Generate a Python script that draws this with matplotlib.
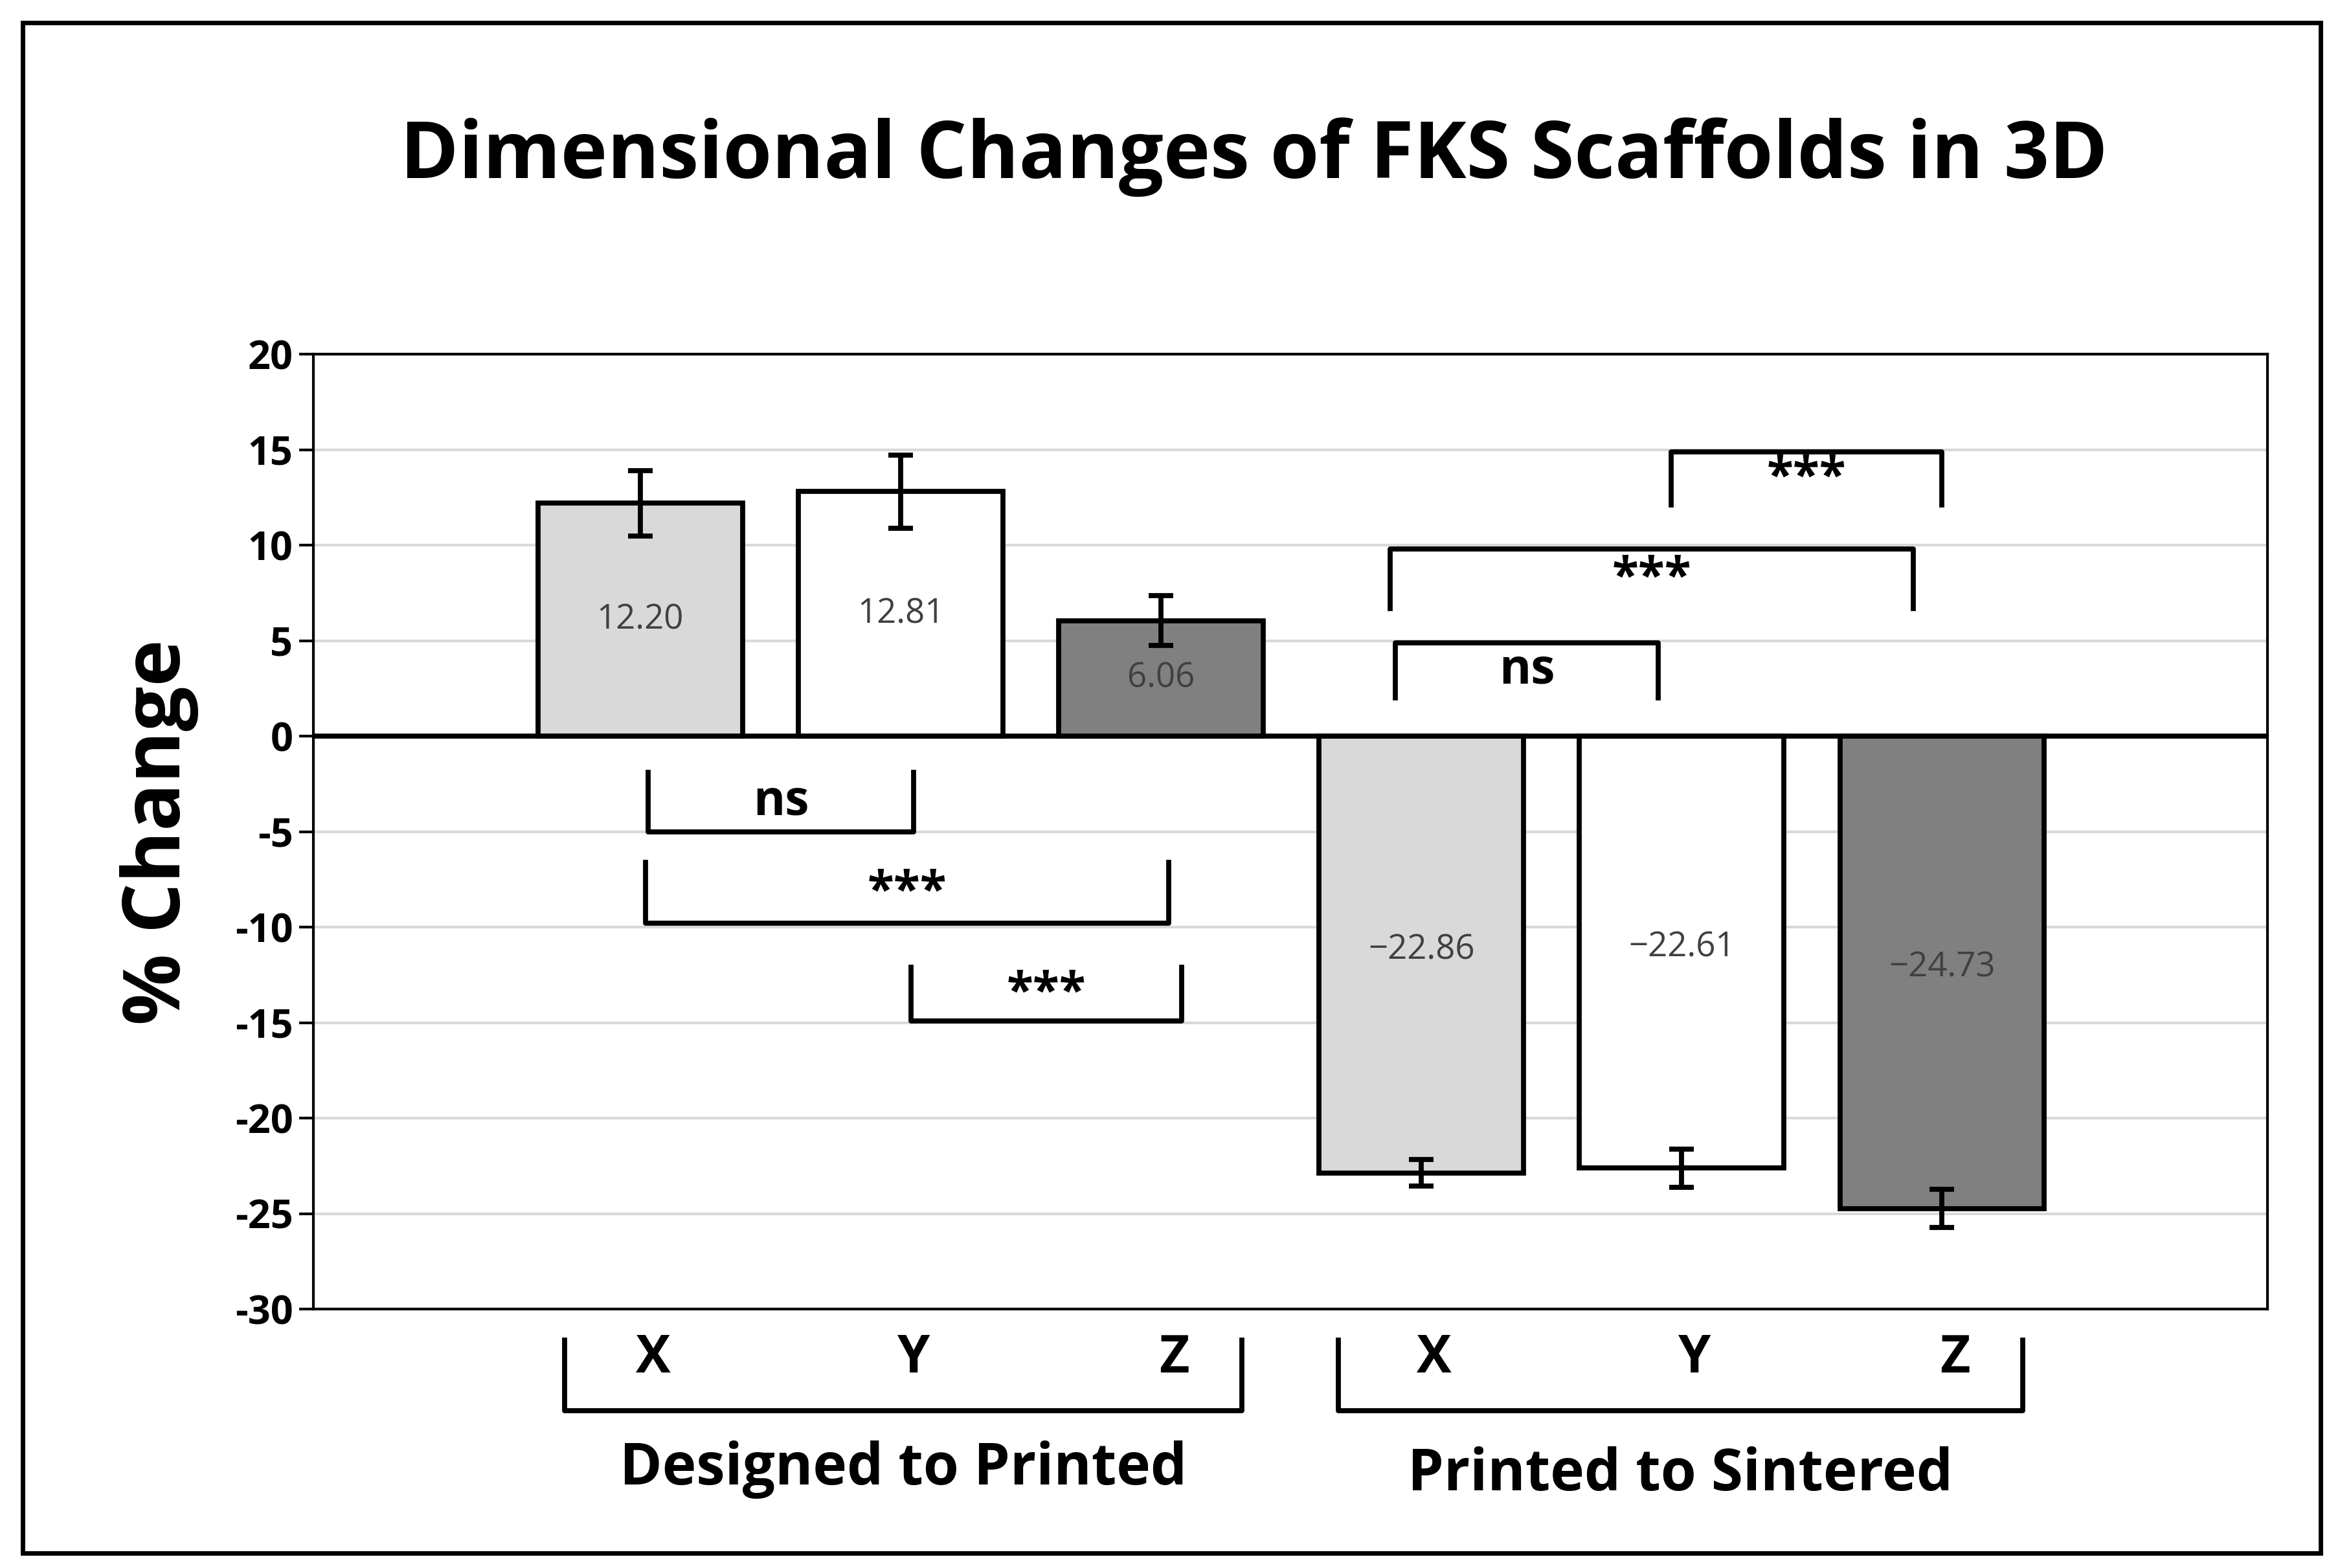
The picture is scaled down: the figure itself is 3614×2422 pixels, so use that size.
import matplotlib.pyplot as plt
from matplotlib.patches import Rectangle

plt.rcParams['font.family'] = ['Open Sans', 'DejaVu Sans']
plt.rcParams['axes.unicode_minus'] = False

axes_labels = ["X", "Y", "Z", "X", "Y", "Z"]
groups = ["Designed to Printed", "Printed to Sintered"]
values = [12.20, 12.81, 6.06, -22.86, -22.61, -24.73]
errors = [1.7, 1.9, 1.3, 0.7, 1.0, 1.0]
value_text = ["12.20", "12.81", "6.06", "\u221222.86", "\u221222.61", "\u221224.73"]
colors = ["#d9d9d9", "#ffffff", "#808080", "#d9d9d9", "#ffffff", "#808080"]
# significance brackets: (x1, x2, y, tip_y, label)
brackets = [
    (0.03, 1.05, -5.0, -1.9, "ns"),
    (0.02, 2.03, -9.8, -6.6, "***"),
    (1.04, 2.08, -14.9, -12.1, "***"),
    (2.9, 3.91, 4.9, 2.0, "ns"),
    (2.88, 4.89, 9.8, 6.7, "***"),
    (3.96, 5.0, 14.9, 12.1, "***"),
]

fig = plt.figure(figsize=(18.07, 12.11), dpi=200)
ax = fig.add_axes([0.134, 0.165, 0.835, 0.609])
x = list(range(len(values)))

ax.set_axisbelow(True)
ax.yaxis.grid(True, color="#d9d9d9", lw=1.5)
ax.bar(x, values, width=0.785, color=colors, edgecolor="black", linewidth=2.8, zorder=2)
ax.errorbar(x, values, yerr=errors, fmt="none", ecolor="black", elinewidth=2.8,
            capsize=7, capthick=2.8, zorder=3)
ax.axhline(0, color="black", lw=2.8, zorder=3)

for xi, v, t in zip(x, values, value_text):
    ax.text(xi, v / 2 if v > 0 else v * 0.49, t, ha="center", va="center",
            fontsize=19, color="#404040", zorder=4)

for x1, x2, y, ty, lab in brackets:
    ax.plot([x1, x1, x2, x2], [ty, y, y, ty], color="black", lw=2.8)
    ax.text((x1 + x2) / 2, (y + ty) / 2, lab, ha="center", va="center", fontsize=27,
            fontweight="bold")

ax.set_xlim(-1.255, 6.25)
ax.set_ylim(-30, 20)
ax.set_yticks(range(-30, 21, 5))
ax.set_xticks([])
ax.tick_params(axis="y", labelsize=22, length=8, width=1.5)
for lbl in ax.get_yticklabels():
    lbl.set_fontweight("bold")
for sp in ax.spines.values():
    sp.set_linewidth(1.5)
ax.set_ylabel("% Change", fontsize=44, fontweight="bold", labelpad=20)

# category labels and group brackets below the axis
for xi, lab in zip(x, axes_labels):
    ax.text(xi + 0.05, -32.6, lab, ha="center", va="center", fontsize=29,
            fontweight="bold", clip_on=False)
for gi, (g, gx1, gx2) in enumerate(zip(groups, [-0.29, 2.68], [2.31, 5.31])):
    ax.plot([gx1, gx1, gx2, gx2], [-31.6, -35.3, -35.3, -31.6], color="black",
            lw=2.8, clip_on=False)
    ax.text((gx1 + gx2) / 2, -38.4 if gi == 0 else -38.7, g, ha="center",
            va="center", fontsize=32, fontweight="bold", clip_on=False)

fig.text(0.536, 0.9, "Dimensional Changes of FKS Scaffolds in 3D", ha="center",
         va="center", fontsize=44, fontweight="bold")
fig.patches.append(Rectangle((0.0096, 0.0095), 0.982, 0.976, transform=fig.transFigure,
                             fill=False, edgecolor="black", lw=2.5))
fig.savefig("out.png", dpi=200)
